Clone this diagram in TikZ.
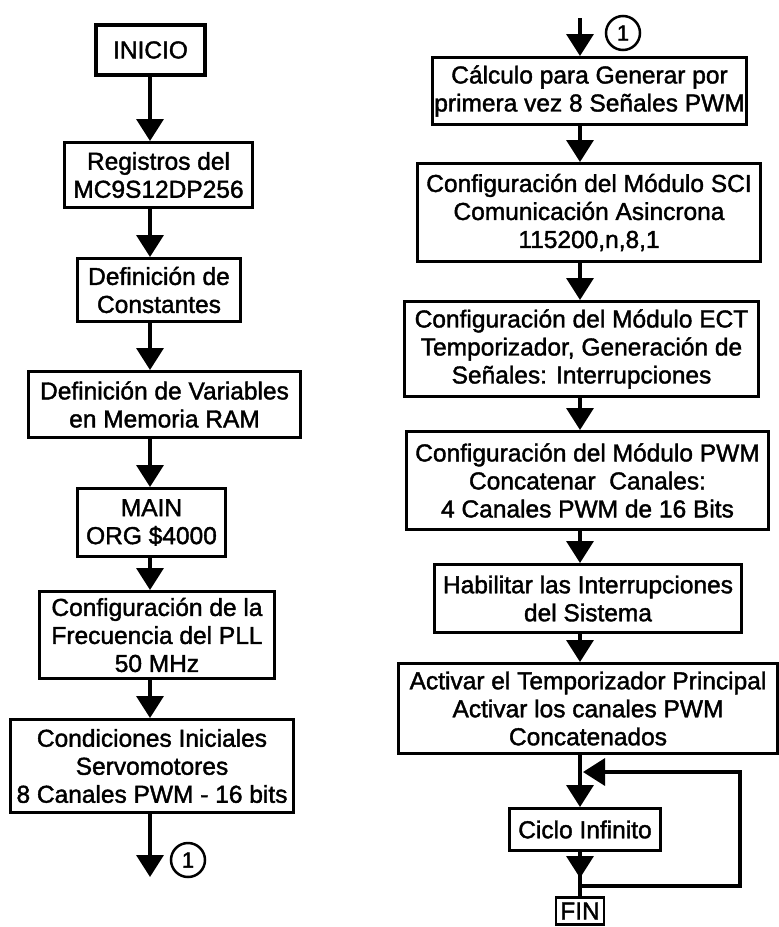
\documentclass[tikz,border=0pt]{standalone}
\usepackage{fontspec}
\setmainfont{Liberation Sans}[FakeBold=1.6]
\usetikzlibrary{arrows.meta}
\begin{document}
\begin{tikzpicture}[x=1pt,y=-1pt,
  box/.style={draw,line width=3pt,inner sep=0pt,align=center,
    font=\fontsize{24.5}{28}\selectfont},
  circ/.style={draw,circle,line width=2.5pt,minimum size=34pt,inner sep=0pt,
    font=\fontsize{22}{24}\selectfont},
  conn/.style={line width=3.5pt},
  arr/.style={conn,-{Triangle[length=22pt,width=27pt]}}]
\useasboundingbox (0,0) rectangle (779,927);
\coordinate (lx) at (150,0);
\coordinate (rx) at (580,0);
% left column
\node[box,line width=4.5pt,minimum width=109pt,minimum height=50pt] (n1) at (150.5,50) {INICIO};
\node[box,minimum width=188pt,minimum height=65pt] (n2) at (158.5,175) {Registros del\\MC9S12DP256};
\node[box,minimum width=163pt,minimum height=63pt] (n3) at (159,290) {Definición de\\Constantes};
\node[box,minimum width=272pt,minimum height=66pt] (n4) at (164.5,404.5) {Definición de Variables\\en Memoria RAM};
\node[box,minimum width=148pt,minimum height=68pt] (n5) at (151.5,522.5) {MAIN\\ORG \$4000};
\node[box,minimum width=235pt,minimum height=87pt] (n6) at (157,635) {Configuración de la\\Frecuencia del PLL\\50 MHz};
\node[box,minimum width=283pt,minimum height=93pt] (n7) at (152,766) {Condiciones Iniciales\\Servomotores\\8 Canales PWM - 16 bits};
\node[circ] (c1) at (188,860) {1};
\coordinate (endL) at (150,877);
\draw[arr] (n1.south -| lx) -- (n2.north -| lx);
\draw[arr] (n2.south -| lx) -- (n3.north -| lx);
\draw[arr] (n3.south -| lx) -- (n4.north -| lx);
\draw[arr] (n4.south -| lx) -- (n5.north -| lx);
\draw[arr] (n5.south -| lx) -- (n6.north -| lx);
\draw[arr] (n6.south -| lx) -- (n7.north -| lx);
\draw[arr] (n7.south -| lx) -- (endL);
% right column
\node[circ] (c2) at (623,33) {1};
\coordinate (startR) at (580,18);
\node[box,minimum width=314pt,minimum height=67pt] (m1) at (589.5,91) {Cálculo para Generar por\\primera vez 8 Señales PWM};
\node[box,minimum width=343pt,minimum height=98pt] (m2) at (589,212.5) {Configuración del Módulo SCI\\Comunicación Asincrona\\115200,n,8,1};
\node[box,minimum width=354pt,minimum height=95pt] (m3) at (581.5,349) {Configuración del Módulo ECT\\Temporizador, Generación de\\Señales: Interrupciones};
\node[box,minimum width=362pt,minimum height=98pt] (m4) at (587.5,480.5) {Configuración del Módulo PWM\\Concatenar\ \ Canales:\\4 Canales PWM de 16 Bits};
\node[box,minimum width=307pt,minimum height=68pt] (m5) at (588,598.5) {Habilitar las Interrupciones\\del Sistema\hspace{2em}};
\node[box,minimum width=379pt,minimum height=90pt] (m6) at (588,708.5) {Activar el Temporizador Principal\\Activar los canales PWM\\Concatenados};
\node[box,minimum width=151pt,minimum height=42pt] (m7) at (585,829.5) {Ciclo Infinito};
\node[box,line width=2.5pt,minimum width=48pt,minimum height=27pt] (m8) at (580,911) {FIN};
\draw[arr] (startR) -- (m1.north -| rx);
\draw[arr] (m1.south -| rx) -- (m2.north -| rx);
\draw[arr] (m2.south -| rx) -- (m3.north -| rx);
\draw[arr] (m3.south -| rx) -- (m4.north -| rx);
\draw[arr] (m4.south -| rx) -- (m5.north -| rx);
\draw[arr] (m5.south -| rx) -- (m6.north -| rx);
\draw[arr] (m6.south -| rx) -- (m7.north -| rx);
\draw[conn] (m7.south -| rx) -- (m8.north -| rx);
\draw[arr] (m7.south -| rx) -- ++(0,26);
\coordinate (loopB) at (580,886);
\coordinate (loopR) at (740,772);
\coordinate (loopT) at (583,772);
\draw[arr] (loopB) -| (loopR) -- (loopT);
\end{tikzpicture}
\end{document}
